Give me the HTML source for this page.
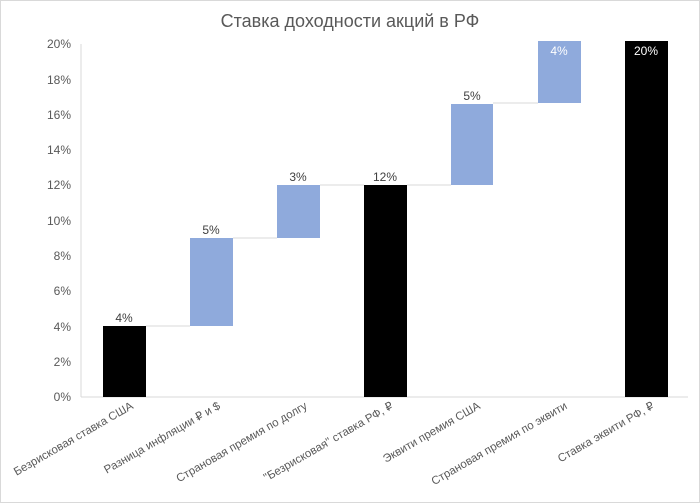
<!DOCTYPE html>
<html><head><meta charset="utf-8"><style>
body{margin:0;background:#fff}
svg{display:block;font-family:"Liberation Sans","DejaVu Sans",sans-serif}
</style></head><body>
<svg width="700" height="503" xmlns="http://www.w3.org/2000/svg">
<rect x="0.5" y="0.5" width="699" height="502" fill="#fff" stroke="#d9d9d9"/>
<text x="350" y="27" text-anchor="middle" font-size="18" fill="#595959">Ставка доходности акций в РФ</text>
<g font-size="12" fill="#595959" text-anchor="end">
<text x="71" y="48">20%</text><text x="71" y="84">18%</text><text x="71" y="119">16%</text>
<text x="71" y="154">14%</text><text x="71" y="189">12%</text><text x="71" y="225">10%</text>
<text x="71" y="260">8%</text><text x="71" y="295">6%</text><text x="71" y="331">4%</text>
<text x="71" y="366">2%</text><text x="71" y="401">0%</text>
</g>
<line x1="81" y1="44" x2="81" y2="397" stroke="#d9d9d9"/>
<line x1="81" y1="397" x2="688" y2="397" stroke="#d9d9d9"/>
<g stroke="#d9d9d9">
<line x1="146" y1="326" x2="190" y2="326"/>
<line x1="233" y1="238" x2="277" y2="238"/>
<line x1="320" y1="185" x2="364" y2="185"/>
<line x1="407" y1="185" x2="451" y2="185"/>
<line x1="493" y1="103" x2="538" y2="103"/>
</g>
<rect x="103" y="326" width="43" height="71" fill="#000"/>
<rect x="190" y="238" width="43" height="88" fill="#8faadc"/>
<rect x="277" y="185" width="43" height="53" fill="#8faadc"/>
<rect x="364" y="185" width="43" height="212" fill="#000"/>
<rect x="451" y="104" width="42" height="81" fill="#8faadc"/>
<rect x="538" y="41" width="43" height="62" fill="#8faadc"/>
<rect x="625" y="41" width="43" height="356" fill="#000"/>
<g font-size="12" fill="#404040" text-anchor="middle">
<text x="124" y="322">4%</text><text x="211" y="234">5%</text><text x="298" y="181">3%</text>
<text x="385" y="181">12%</text><text x="472" y="100">5%</text>
<text x="559" y="55" fill="#fff">4%</text><text x="646" y="55" fill="#fff">20%</text>
</g>
<g font-size="11.5" fill="#595959" text-anchor="end">
<text transform="translate(134,408) rotate(-30)">Безрисковая ставка США</text>
<text transform="translate(221,408) rotate(-30)">Разница инфляции ₽ и $</text>
<text transform="translate(308,408) rotate(-30)">Страновая премия по долгу</text>
<text transform="translate(394,408) rotate(-30)">"Безрисковая" ставка РФ, ₽</text>
<text transform="translate(481,408) rotate(-30)">Эквити премия США</text>
<text transform="translate(568,408) rotate(-30)">Страновая премия по эквити</text>
<text transform="translate(655,408) rotate(-30)">Ставка эквити РФ, ₽</text>
</g>
</svg>
</body></html>
